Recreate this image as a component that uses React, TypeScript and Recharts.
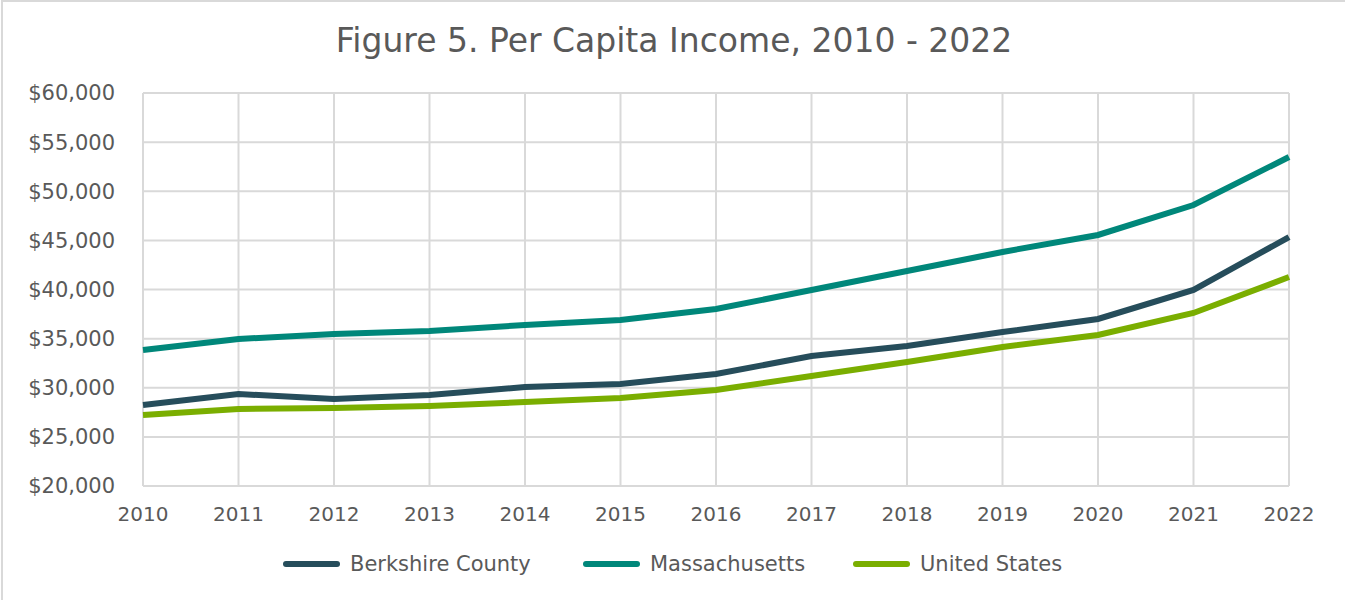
import React from "react";
import { LineChart, Line, XAxis, YAxis, CartesianGrid } from "recharts";

const years = [
  "2010", "2011", "2012", "2013", "2014", "2015", "2016",
  "2017", "2018", "2019", "2020", "2021", "2022",
];
const berkshire = [
  28240, 29360, 28850, 29260, 30080, 30380, 31400,
  33230, 34250, 35670, 37000, 39950, 45340,
];
const massachusetts = [
  33840, 34960, 35470, 35780, 36390, 36900, 38010,
  39950, 41880, 43820, 45550, 48600, 53490,
];
const unitedStates = [
  27230, 27840, 27940, 28140, 28550, 28960, 29770,
  31200, 32620, 34150, 35370, 37610, 41270,
];
const yTicks = [20000, 25000, 30000, 35000, 40000, 45000, 50000, 55000, 60000];

const series = [
  { key: "berkshire", name: "Berkshire County", color: "#264D5B", x: 283 },
  { key: "massachusetts", name: "Massachusetts", color: "#00877A", x: 583 },
  { key: "unitedStates", name: "United States", color: "#7AAE00", x: 853 },
];

const data = years.map((year, i) => ({
  year,
  berkshire: berkshire[i],
  massachusetts: massachusetts[i],
  unitedStates: unitedStates[i],
}));

const FONT = "Verdana, 'DejaVu Sans', sans-serif";
const TEXT = "#595959";

const fmt = (v: number) => "$" + v.toLocaleString("en-US");

export default function App() {
  return (
    <div
      style={{
        position: "absolute",
        left: 0,
        top: 0,
        width: 1345,
        height: 600,
        overflow: "hidden",
        background: "#fff",
        fontFamily: FONT,
      }}
    >
      <div
        style={{
          position: "absolute",
          left: 1,
          top: 0,
          width: 1400,
          height: 700,
          borderLeft: "2px solid #D9D9D9",
          borderTop: "2px solid #D9D9D9",
        }}
      />
      <div
        style={{
          position: "absolute",
          left: 0,
          top: 21,
          width: 1348,
          textAlign: "center",
          fontSize: 33,
          color: TEXT,
        }}
      >
        Figure 5. Per Capita Income, 2010 - 2022
      </div>
      <LineChart
        width={1345}
        height={600}
        data={data}
        margin={{ top: 93, right: 56, bottom: 84, left: 0 }}
        style={{ position: "absolute", left: 0, top: 0 }}
      >
        <CartesianGrid stroke="#D9D9D9" strokeWidth={2} />
        <XAxis
          dataKey="year"
          height={30}
          axisLine={false}
          tickLine={false}
          tickSize={0}
          tickMargin={21}
          tick={{ fill: TEXT, fontSize: 20, fontFamily: FONT }}
          interval={0}
        />
        <YAxis
          width={143}
          domain={[20000, 60000]}
          ticks={yTicks}
          axisLine={false}
          tickLine={false}
          tickSize={0}
          tickMargin={28}
          tickFormatter={fmt}
          tick={{ fill: TEXT, fontSize: 21, fontFamily: FONT }}
          allowDataOverflow
        />
        {series.map((s) => (
          <Line
            key={s.key}
            type="linear"
            dataKey={s.key}
            name={s.name}
            stroke={s.color}
            strokeWidth={6}
            dot={false}
            activeDot={false}
            isAnimationActive={false}
          />
        ))}
      </LineChart>
      {series.map((s) => (
        <div
          key={s.key}
          style={{
            position: "absolute",
            left: s.x,
            top: 552,
            display: "flex",
            alignItems: "center",
            fontSize: 21,
            color: TEXT,
          }}
        >
          <span
            style={{
              display: "inline-block",
              width: 57,
              height: 6,
              borderRadius: 3,
              background: s.color,
              marginRight: 10,
            }}
          />
          {s.name}
        </div>
      ))}
    </div>
  );
}
